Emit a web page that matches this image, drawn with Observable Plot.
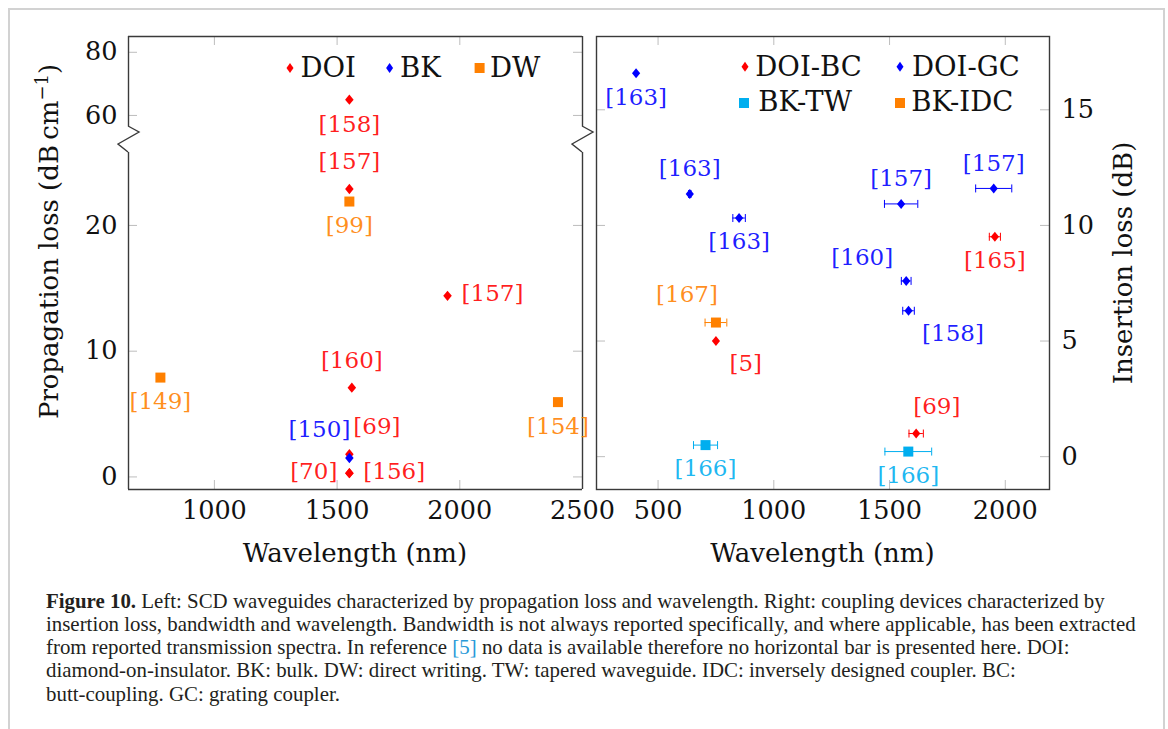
<!DOCTYPE html>
<html><head><meta charset="utf-8">
<script src="https://cdn.jsdelivr.net/npm/d3@7"></script>
<script src="https://cdn.jsdelivr.net/npm/@observablehq/plot@0.6"></script>
<style>
html,body{margin:0;padding:0;background:#fff;}
#page{position:relative;width:1168px;height:729px;overflow:hidden;background:#fff;}
#border{position:absolute;left:8px;top:8px;width:1157px;height:800px;border:2px solid #d2d2d2;box-sizing:border-box;}
.layer{position:absolute;left:0;top:0;}
</style></head>
<body><div id="page"><div id="border"></div></div>
<script>
// ---------------- data: left panel (SCD waveguides) ----------------
const wgPlatform   = ["DOI","DOI","DW","DOI","DW","DW","DOI","DOI","DOI","DOI","BK"];
const wgWavelength = [1550, 1550, 1550, 1950, 780, 2400, 1560, 1550, 1550, 1550, 1550];
const wgLoss       = [65, 22.9, 21.9, 14.4, 7.9, 5.95, 7.1, 1.8, 0.3, 0.3, 1.5];
const wgRef        = ["[158]","[157]","[99]","[157]","[149]","[154]","[160]","[69]","[70]","[156]","[150]"];
const wgLabelPos   = ["below","above","below","right","below","below","above","aboveRight","left","right","aboveLeft"];
const wgLegend     = ["DOI","BK","DW"];
const wgColors     = ["#ff0000","#0000ff","#ff8000"];
const wgTicksX     = [1000, 1500, 2000, 2500];
const wgTicksY     = [0, 10, 20, 60, 80];

// ---------------- data: right panel (coupling devices) ----------------
const cpType       = ["DOI-GC","DOI-GC","DOI-GC","DOI-GC","DOI-GC","DOI-BC","DOI-GC","DOI-GC","BK-IDC","DOI-BC","DOI-BC","BK-TW","BK-TW"];
const cpWavelength = [405, 637, 850, 1550, 1950, 1955, 1572, 1582, 750, 750, 1615, 705, 1581];
const cpLoss       = [16.58, 11.36, 10.32, 10.93, 11.6, 9.51, 7.6, 6.31, 5.8, 5.0, 1.0, 0.5, 0.22];
const cpBandwidth  = [null, 10, 54, 144, 156, 48, 42, 50, 94, null, 62, 104, 202];
const cpRef        = ["[163]","[163]","[163]","[157]","[157]","[165]","[160]","[158]","[167]","[5]","[69]","[166]","[166]"];
const cpLabelPos   = ["below","above","below","above","above","below","upperLeft","belowRight","aboveLeft","belowRight","aboveRight","below","below"];
const cpLegend     = ["DOI-BC","DOI-GC","BK-TW","BK-IDC"];
const cpColors     = ["#ff0000","#0000ff","#00aeef","#ff8000"];
const cpTicksX     = [500, 1000, 1500, 2000];
const cpTicksY     = [0, 5, 10, 15];

// ---------------- caption ----------------
const captionLines = [
  [{t:"Figure 10.", b:true},{t:" Left: SCD waveguides characterized by propagation loss and wavelength. Right: coupling devices characterized by"}],
  [{t:"insertion loss, bandwidth and wavelength. Bandwidth is not always reported specifically, and where applicable, has been extracted"}],
  [{t:"from reported transmission spectra. In reference "},{t:"[5]", link:true},{t:" no data is available therefore no horizontal bar is presented here. DOI:"}],
  [{t:"diamond-on-insulator. BK: bulk. DW: direct writing. TW: tapered waveguide. IDC: inversely designed coupler. BC:"}],
  [{t:"butt-coupling. GC: grating coupler."}]
];

// ---------------- layout / style ----------------
const W = 1168, H = 600;
const CAPFONT = "Liberation Serif";
const FONT = "DejaVu Serif";
const TICK = "#bdbdbd", FRAME = "#3a3a3a";
const L = {l:128, r:582, t:36, b:489, breakTop:126, breakBottom:152};
const R = {l:596, r:1049, t:36, b:489};
const lowerDomain = [-1.0, 25.8], upperDomain = [56.5, 85.0];
const fmt = d => String(d);

const diamond = {draw(ctx, size){const r=Math.sqrt(size/Math.PI), w=r*0.82; ctx.moveTo(0,-r); ctx.lineTo(w,0); ctx.lineTo(0,r); ctx.lineTo(-w,0); ctx.closePath();}};
const square  = {draw(ctx, size){const r=Math.sqrt(size/Math.PI); ctx.rect(-r,-r,2*r,2*r);}};
const cap     = {draw(ctx, size){const r=Math.sqrt(size/Math.PI); ctx.moveTo(0,-r); ctx.lineTo(0,r);}};

const wg = wgPlatform.map((k,i)=>({key:k, x:wgWavelength[i], y:wgLoss[i], ref:wgRef[i], pos:wgLabelPos[i]}));
const cp = cpType.map((k,i)=>({key:k, x:cpWavelength[i], y:cpLoss[i], bw:cpBandwidth[i], ref:cpRef[i], pos:cpLabelPos[i]}));

const wgPlacement = {
  above:{dy:-27}, below:{dy:24.5},
  right:{dx:14, dy:-2, anchor:"start"}, left:{dx:-12, dy:-2, anchor:"end"},
  aboveLeft:{dx:1, dy:-28, anchor:"end"}, aboveRight:{dx:4, dy:-28, anchor:"start"}
};
const cpPlacement = {
  above:{dy:-25}, below:{dy:24},
  aboveLeft:{dx:2, dy:-28, anchor:"end"}, upperLeft:{dx:-13, dy:-23, anchor:"end"},
  belowRight:{dx:13.5, dy:23, anchor:"start"}, aboveRight:{dx:-3, dy:-27, anchor:"start"}
};
function labels(data, placement){
  return Object.entries(placement).map(([p,o]) =>
    Plot.text(data.filter(d=>d.pos===p), {x:"x", y:"y", text:"ref", fill:"key", fillOpacity:0.88,
      fontSize:"23px", fontFamily:FONT, textAnchor:o.anchor||"middle", dx:o.dx||0, dy:o.dy||0}));
}
const S = 9; // inner tick length
const baseStyle = {background:"transparent", fontFamily:FONT, overflow:"visible", color:"#111"};
const frameLine = {stroke:FRAME, strokeWidth:1.4};
const axisText = {tickSize:0, label:null, fontSize:"25.5px", fontFamily:FONT, fill:"#111", tickFormat:fmt};

// left panel: broken y axis drawn as two stacked plots sharing the x scale
function leftPart(upper){
  const top = upper ? L.t : L.breakBottom, bottom = upper ? L.breakTop : L.b;
  const dom = upper ? upperDomain : lowerDomain;
  const data = wg.filter(d => d.y >= dom[0] && d.y <= dom[1]);
  const ty = wgTicksY.filter(v => v >= dom[0] && v <= dom[1]);
  const fw = L.r - L.l, fh = bottom - top;
  const zigzag = (index, scales, values, dims) => {
    const ya = L.breakTop, yb = L.breakBottom;
    const zig = x => ` M${x},${ya} L${x+11},${ya+6} L${x-10},${ya+18} L${x},${yb}`;
    return d3.create("svg:path").attr("fill","none").attr("stroke",FRAME).attr("stroke-width",1.4)
      .attr("d", (zig(dims.marginLeft) + zig(dims.width - dims.marginRight)).trim()).node();
  };
  const marks = [
    Plot.tickY(ty, {y:d=>d, stroke:TICK, insetRight:fw-S}),
    Plot.tickY(ty, {y:d=>d, stroke:TICK, insetLeft:fw-S}),
    upper ? Plot.tickX(wgTicksX, {x:d=>d, stroke:TICK, insetBottom:fh-S})
          : Plot.tickX(wgTicksX, {x:d=>d, stroke:TICK, insetTop:fh-S}),
    Plot.ruleX([650, 2500], frameLine),
    Plot.ruleY([upper ? dom[1] : dom[0]], frameLine),
    Plot.axisY(ty, {anchor:"left", tickPadding:11, ...axisText}),
    Plot.dot(data.filter(d=>d.key!=="DW"), {x:"x", y:"y", fill:"key", symbol:diamond, r:5.2}),
    Plot.dot(data.filter(d=>d.key==="DW"), {x:"x", y:"y", fill:"key", symbol:square, r:5}),
    ...labels(data, wgPlacement)
  ];
  if (!upper) marks.push(zigzag, Plot.axisX(wgTicksX, {tickPadding:11, ...axisText}));
  return Plot.plot({
    width:W, height:H, marginLeft:L.l, marginRight:W-L.r, marginTop:top, marginBottom:H-bottom,
    style: baseStyle,
    x: {domain:[650, 2500], axis: upper ? null : undefined},
    y: {domain: dom},
    color: {type:"ordinal", domain:wgLegend, range:wgColors},
    marks
  });
}

const bars = cp.filter(d=>d.bw!=null);
const fwR = R.r - R.l, fhR = R.b - R.t;
const right = Plot.plot({
  width:W, height:H, marginLeft:R.l, marginRight:W-R.r, marginTop:R.t, marginBottom:H-R.b,
  style: baseStyle,
  x: {domain:[234, 2191]},
  y: {domain:[-1.42, 18.17]},
  color: {type:"ordinal", domain:cpLegend, range:cpColors},
  marks: [
    Plot.tickY(cpTicksY, {y:d=>d, stroke:TICK, insetRight:fwR-S}),
    Plot.tickY(cpTicksY, {y:d=>d, stroke:TICK, insetLeft:fwR-S}),
    Plot.tickX(cpTicksX, {x:d=>d, stroke:TICK, insetBottom:fhR-S}),
    Plot.tickX(cpTicksX, {x:d=>d, stroke:TICK, insetTop:fhR-S}),
    Plot.frame(frameLine),
    Plot.axisX(cpTicksX, {tickPadding:11, ...axisText}),
    Plot.axisY(cpTicksY, {anchor:"right", tickPadding:12, ...axisText}),
    Plot.ruleY(bars, {y:"y", x1:d=>d.x-d.bw/2, x2:d=>d.x+d.bw/2, stroke:"key", strokeWidth:1}),
    Plot.dot(bars, {x:d=>d.x-d.bw/2, y:"y", symbol:cap, r:4, stroke:"key", fill:"none", strokeWidth:1}),
    Plot.dot(bars, {x:d=>d.x+d.bw/2, y:"y", symbol:cap, r:4, stroke:"key", fill:"none", strokeWidth:1}),
    Plot.dot(cp.filter(d=>d.key.startsWith("DOI")), {x:"x", y:"y", fill:"key", symbol:diamond, r:5}),
    Plot.dot(cp.filter(d=>d.key.startsWith("BK")), {x:"x", y:"y", fill:"key", symbol:square, r:5}),
    ...labels(cp, cpPlacement)
  ]
});

const page = document.getElementById("page");
for (const svg of [leftPart(false), leftPart(true), right]) {
  svg.classList.add("layer");
  svg.style.position = "absolute"; svg.style.left = "0px"; svg.style.top = "0px"; svg.style.maxWidth = "none";
  page.appendChild(svg);
}

// ---------------- overlay: titles, legends, caption ----------------
const ov = d3.select(page).append("svg").attr("class","layer").attr("width",1168).attr("height",729)
  .attr("font-family",FONT).attr("fill","#111");

ov.append("text").attr("x",(L.l+L.r)/2).attr("y",562).attr("text-anchor","middle")
  .attr("font-size","26px").attr("font-family",FONT).text("Wavelength (nm)");
ov.append("text").attr("x",(R.l+R.r)/2).attr("y",562).attr("text-anchor","middle")
  .attr("font-size","26px").attr("font-family",FONT).text("Wavelength (nm)");
const ty = ov.append("text").attr("transform","translate(58,241.5) rotate(-90)").attr("text-anchor","middle")
  .attr("font-size","26px").attr("font-family",FONT);
ty.append("tspan").text("Propagation loss (dB\u2009cm");
ty.append("tspan").attr("font-size","18px").attr("dy",-10).text("\u22121");
ty.append("tspan").attr("dy",10).text(")");
ov.append("text").attr("transform","translate(1132,263) rotate(-90)").attr("text-anchor","middle")
  .attr("font-size","26px").attr("font-family",FONT).text("Insertion loss (dB)");

function legendItem(sx, sy, tx, baseline, name, color, shape){
  const s = shape==="square" ? `M${sx-5},${sy-5}h10v10h-10z` : `M${sx},${sy-5}L${sx+3.5},${sy}L${sx},${sy+5}L${sx-3.5},${sy}z`;
  ov.append("path").attr("d", s).attr("fill", color);
  ov.append("text").attr("x",tx).attr("y",baseline).attr("font-size","27.5px").attr("font-family",FONT).text(name);
}
const legLeftLayout = [[290,68,300.5,76.7],[389.6,68,400,76.7],[479.6,68,490,76.7]];
wgLegend.forEach((n,i)=>{const p=legLeftLayout[i]; legendItem(p[0],p[1],p[2],p[3],n,wgColors[i], n==="DW"?"square":"diamond");});
const legRightLayout = [[745,66.7,755.3,75.7],[900,66.7,912,75.7],[744,103,758.3,111],[900,103,911.3,111]];
cpLegend.forEach((n,i)=>{const p=legRightLayout[i]; legendItem(p[0],p[1],p[2],p[3],n,cpColors[i], n.startsWith("BK")?"square":"diamond");});

// caption: font size calibrated so the longest line spans the measured width
const capTexts = captionLines.map((line, i) => {
  const t = ov.append("text").attr("x",46).attr("y",607.5 + i*23.3).attr("font-size",17.5).attr("fill","#231f20")
    .attr("font-family",CAPFONT);
  line.forEach(seg => {
    const sp = t.append("tspan").text(seg.t);
    if (seg.b) sp.attr("font-weight","bold");
    if (seg.link) sp.attr("fill","#2a9ad8");
  });
  return t;
});
const w2 = capTexts[1].node().getComputedTextLength();
const capSize = 17.5 * 1090 / w2;
capTexts.forEach(t => t.attr("font-size", capSize.toFixed(2)));
</script>
</body></html>
